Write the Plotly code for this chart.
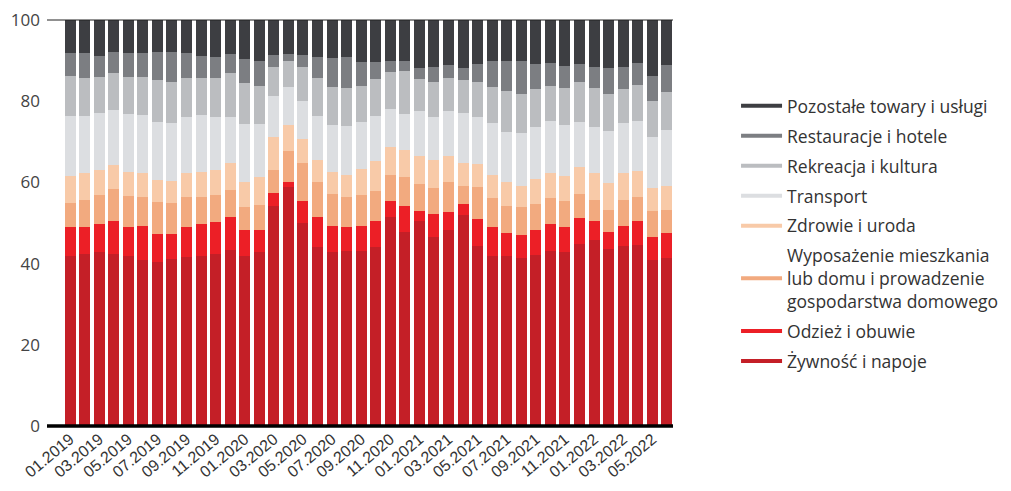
import plotly.graph_objects as go

months = [f"{m:02d}.{y}" for y in (2019, 2020, 2021, 2022) for m in range(1, 13)][:42]

series_names = [
    "Żywność i napoje",
    "Odzież i obuwie",
    "Wyposażenie mieszkania<br>lub domu i prowadzenie<br>gospodarstwa domowego",
    "Zdrowie i uroda",
    "Transport",
    "Rekreacja i kultura",
    "Restauracje i hotele",
    "Pozostałe towary i usługi",
]

zywnosc = [41.9, 42.4, 42.8, 42.4, 41.9, 41.0, 40.5, 41.1, 41.6, 41.9, 42.4, 43.4, 41.8, 42.9,
           54.3, 58.8, 50.1, 44.1, 42.9, 43.0, 43.0, 44.2, 51.4, 47.7, 50.4, 46.5, 48.3, 52.0,
           44.3, 41.9, 41.9, 41.4, 42.2, 43.2, 42.9, 44.8, 45.7, 43.6, 44.4, 44.6, 40.8, 41.5]
odziez = [7.1, 6.6, 6.9, 8.0, 7.1, 8.3, 6.9, 6.3, 7.4, 7.8, 7.8, 8.2, 6.4, 5.4,
          3.2, 1.4, 5.2, 7.3, 6.4, 5.9, 6.3, 6.2, 4.0, 6.4, 2.6, 5.7, 4.5, 2.7,
          6.6, 7.0, 5.6, 5.7, 6.0, 6.5, 6.1, 6.5, 4.9, 4.1, 4.9, 5.8, 5.7, 6.0]
wyposazenie = [6.0, 6.7, 7.2, 7.9, 7.6, 7.2, 7.7, 7.6, 7.4, 6.8, 6.7, 6.6, 5.8, 6.1,
               5.6, 7.6, 9.4, 8.6, 7.8, 7.6, 7.6, 7.6, 6.4, 7.2, 6.6, 6.5, 7.2, 4.4,
               8.0, 7.2, 6.7, 6.8, 6.4, 6.4, 6.3, 5.9, 5.1, 5.6, 6.4, 6.1, 6.5, 5.8]
zdrowie = [6.6, 6.6, 6.2, 6.0, 6.0, 5.7, 5.5, 5.4, 6.0, 6.1, 6.2, 6.7, 6.2, 6.9,
           8.0, 6.3, 5.9, 5.5, 5.5, 5.3, 6.4, 7.2, 6.8, 6.7, 6.8, 6.8, 6.6, 5.8,
           5.7, 5.7, 5.8, 5.2, 6.2, 6.3, 6.3, 6.7, 6.6, 6.5, 6.6, 6.4, 5.6, 5.7]
transport = [14.8, 14.1, 14.1, 13.5, 14.2, 14.4, 14.3, 14.3, 13.8, 13.9, 13.1, 11.3, 14.1, 13.2,
             10.3, 9.3, 9.4, 10.9, 11.5, 12.1, 11.5, 11.2, 9.6, 8.9, 11.2, 10.5, 10.9, 12.3,
             11.6, 12.8, 12.5, 13.0, 12.8, 12.7, 12.5, 10.9, 11.3, 12.9, 12.3, 12.2, 12.7, 13.8]
rekreacja = [9.8, 9.4, 8.8, 9.2, 9.2, 9.4, 10.3, 10.1, 9.6, 9.2, 9.5, 10.7, 10.3, 9.3,
             7.0, 6.5, 8.4, 9.2, 9.5, 9.4, 9.0, 9.0, 9.0, 10.6, 7.8, 8.8, 8.2, 7.9,
             8.5, 9.0, 10.0, 9.7, 9.4, 8.7, 9.1, 9.9, 9.6, 9.1, 8.4, 8.9, 8.7, 9.4]
restauracje = [5.6, 6.0, 5.2, 5.2, 5.8, 5.8, 6.8, 7.2, 6.0, 5.5, 5.1, 4.7, 5.9, 6.2,
               2.9, 1.8, 2.9, 5.4, 7.0, 7.7, 5.9, 4.2, 2.6, 2.5, 2.9, 3.6, 3.3, 3.0,
               4.5, 6.4, 7.3, 8.2, 6.1, 5.7, 5.5, 4.4, 5.2, 6.3, 5.5, 5.3, 6.2, 6.8]
pozostale = [8.2, 8.2, 8.8, 7.8, 8.2, 8.2, 8.0, 8.0, 8.2, 8.8, 9.2, 8.4, 9.5, 10.0,
             8.7, 8.4, 8.7, 9.0, 9.4, 9.0, 10.2, 10.4, 10.2, 10.0, 11.7, 11.6, 11.0, 11.9,
             10.8, 10.0, 10.2, 10.0, 10.9, 10.5, 11.3, 10.9, 11.6, 11.9, 11.5, 10.7, 13.8, 11.0]

series_values = [zywnosc, odziez, wyposazenie, zdrowie, transport, rekreacja, restauracje, pozostale]
colors = ["#c41f27", "#ec1f26", "#f2aa7f", "#f8caa8", "#dcdee1", "#bbbdc0", "#7c7e82", "#3d3e42"]

tick_labels = months[::2]
y_ticks = [0, 20, 40, 60, 80, 100]

fig = go.Figure()
for name, vals, col in zip(series_names, series_values, colors):
    fig.add_trace(go.Bar(x=months, y=vals, name=name, marker=dict(color=col, line=dict(width=0)),
                         showlegend=False, hovertemplate="%{x}: %{y}<extra></extra>"))

# legend entries (line symbols), top to bottom
for i, (name, col) in enumerate(reversed(list(zip(series_names, colors)))):
    fig.add_trace(go.Scatter(x=[None], y=[None], mode="lines", name=name,
                             line=dict(color=col, width=4), legendgroup=f"g{i}", showlegend=True))

fig.update_layout(
    width=995, height=475,
    barmode="stack", bargap=0.245,
    plot_bgcolor="white", paper_bgcolor="white",
    margin=dict(l=39, r=330, t=12, b=57, autoexpand=False),
    font=dict(family="Open Sans, sans-serif", color="#333333"),
    legend=dict(xref="container", yref="container", x=0.7317, xanchor="left",
                y=0.8316, yanchor="top", maxheight=460,
                font=dict(size=17.5, color="#333333", family="Open Sans"),
                tracegroupgap=4.2, itemwidth=41, bgcolor="rgba(0,0,0,0)"),
    xaxis=dict(type="category", categoryorder="array", categoryarray=months,
               range=[-1.58, 41.42], tickvals=tick_labels, ticktext=tick_labels,
               tickangle=-40, tickfont=dict(size=16, family="Liberation Sans", color="#333333"),
               showgrid=False, showline=False, zeroline=False, ticks="", automargin=False,
               ticklabeloverflow="allow"),
    yaxis=dict(range=[0, 100], tickvals=y_ticks, showgrid=False, zeroline=False, showline=False,
               ticks="", tickfont=dict(size=17, color="#444444", family="Open Sans"),
               ticklabelstandoff=6, automargin=False, ticklabeloverflow="allow"),
    shapes=[
        dict(type="line", xref="paper", yref="paper", x0=0, x1=1, y0=1, y1=1,
             line=dict(color="#222222", width=1), layer="above"),
        dict(type="line", xref="paper", yref="paper", x0=0, x1=1, y0=0, y1=0,
             line=dict(color="#000000", width=3.5), layer="above"),
    ],
)

fig.write_html("out.html")
